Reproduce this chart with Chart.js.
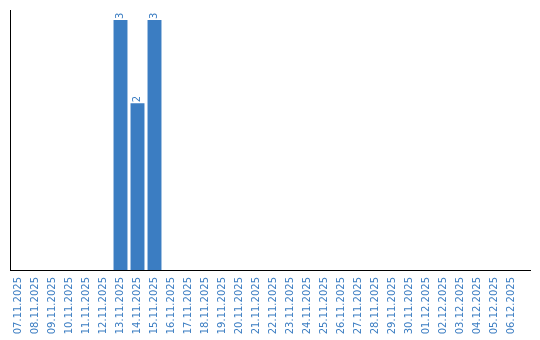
<!DOCTYPE html>
<html>
<head>
<meta charset="UTF-8">
<title>bars</title>
<style>
	body {margin:0; background:#fff;}
	#wrap {width:540px; height:340px;}
</style>
</head>
<body>
<div id="wrap"><canvas id="myChart"></canvas></div>
<script src="https://cdn.jsdelivr.net/npm/chart.js"></script>
<script>
	// dates on the x axis
	const days = ['07.11.2025','08.11.2025','09.11.2025','10.11.2025','11.11.2025','12.11.2025',
		'13.11.2025','14.11.2025','15.11.2025','16.11.2025','17.11.2025','18.11.2025',
		'19.11.2025','20.11.2025','21.11.2025','22.11.2025','23.11.2025','24.11.2025',
		'25.11.2025','26.11.2025','27.11.2025','28.11.2025','29.11.2025','30.11.2025',
		'01.12.2025','02.12.2025','03.12.2025','04.12.2025','05.12.2025','06.12.2025'];
	// count per day
	const counts = [0,0,0,0,0,0, 3,2,3,0,0,0, 0,0,0,0,0,0, 0,0,0,0,0,0, 0,0,0,0,0,0];

	const blue = '#3b7dc2';

	// value above each bar, rotated like the axis labels
	const valueLabels = {
		id:'valueLabels',
		afterDatasetsDraw(chart) {
			const ctx = chart.ctx;
			const meta = chart.getDatasetMeta(0);
			ctx.save();
			ctx.fillStyle = blue;
			ctx.font = '10px "DejaVu Sans"';
			ctx.textAlign = 'left';
			ctx.textBaseline = 'middle';
			meta.data.forEach(function(bar, i) {
				if (!counts[i]) return;
				ctx.save();
				ctx.translate(bar.x, bar.y - 1);
				ctx.rotate(-Math.PI / 2);
				ctx.fillText(String(counts[i]), 0, 0);
				ctx.restore();
			});
			// axis lines run a bit past the plot area
			const a = chart.chartArea;
			ctx.strokeStyle = '#000';
			ctx.lineWidth = 1;
			ctx.beginPath();
			ctx.moveTo(a.right, a.bottom + 0.5);
			ctx.lineTo(a.right + 11, a.bottom + 0.5);
			ctx.moveTo(a.left + 0.5, a.top);
			ctx.lineTo(a.left + 0.5, a.top - 10);
			ctx.stroke();
			ctx.restore();
		}
	};

	new Chart(document.getElementById('myChart'), {
		type:'bar',
		data:{
			labels:days,
			datasets:[{
				data:counts,
				backgroundColor:blue,
				borderWidth:0,
				barPercentage:0.82,
				categoryPercentage:1
			}]
		},
		options:{
			responsive:true,
			maintainAspectRatio:false,
			animation:false,
			layout:{padding:{top:20, right:20, left:0, bottom:0}},
			plugins:{legend:{display:false}, tooltip:{enabled:false}},
			scales:{
				x:{
					grid:{display:false, drawTicks:false},
					border:{display:true, color:'#000', width:1},
					ticks:{
						color:blue,
						font:{family:'DejaVu Sans', size:10},
						minRotation:90,
						maxRotation:90,
						autoSkip:false,
						padding:7
					},
					afterFit:function(scale){ scale.height = 70; }
				},
				y:{
					min:0,
					max:3,
					grid:{display:false, drawTicks:false},
					border:{display:true, color:'#000', width:1},
					ticks:{display:false},
					afterFit:function(scale){ scale.width = 10; }
				}
			}
		},
		plugins:[valueLabels]
	});
</script>
</body>
</html>
